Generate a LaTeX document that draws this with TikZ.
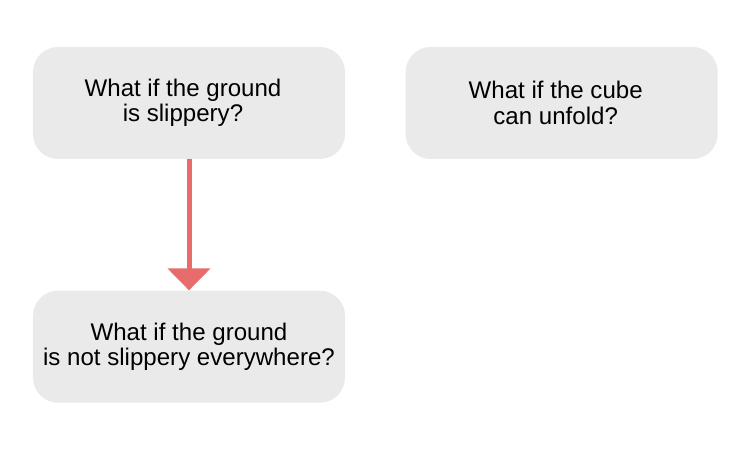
\documentclass[tikz,border=0pt]{standalone}
\usepackage{fontspec}
\setmainfont{Liberation Sans}
\usepackage{tikz}
\usetikzlibrary{arrows.meta,positioning}
\definecolor{boxgray}{HTML}{EAEAEA}
\definecolor{arrowred}{HTML}{E86C6C}
\newcommand{\trail}{\hspace*{0.24cm}}
\tikzset{%
  >={Triangle[width=0.84cm,length=0.44cm]},
  % Specifications for style of nodes:
   question/.style = {rectangle, rounded corners=0.5cm, fill=boxgray,
                      minimum width=6.24cm, minimum height=2.24cm,
                      align=center, text centered,
                      font=\fontsize{13.7}{14.5}\selectfont},
       link/.style = {->, draw=arrowred, line width=0.1cm},
}
\begin{document}
\begin{tikzpicture}[node distance=1.2cm]
  \useasboundingbox (0,0) rectangle (15,9);
  % Specification of nodes (position, etc.)
  \node (slippery)    [question] at (3.78,6.94)
                          {What if the ground\trail\\is slippery?\trail};
  \node (unfold)      [question, right=1.2cm of slippery]
                          {What if the cube\trail\\can unfold?\trail};
  \node (notSlippery) [question, below=2.62cm of slippery]
                         {What if the ground\\is not slippery everywhere?};
  % Specification of lines between nodes specified above
  \draw[link]    (slippery) -- (notSlippery);
\end{tikzpicture}
\end{document}
